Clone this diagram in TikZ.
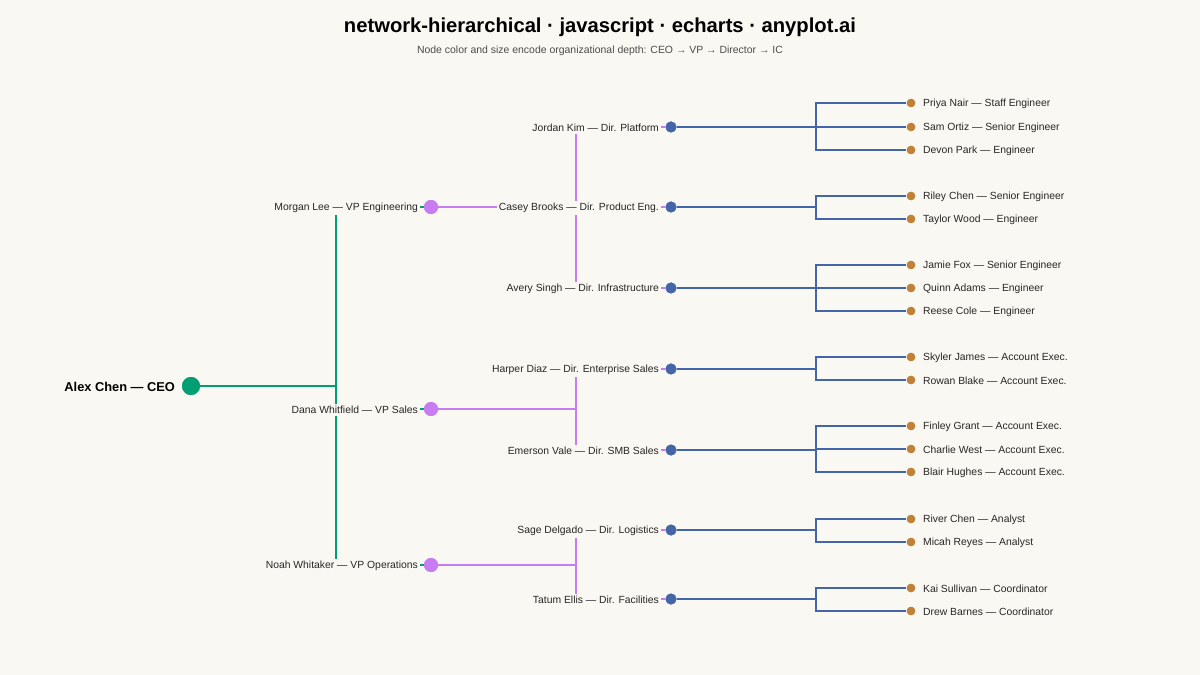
\documentclass[tikz,border=0pt]{standalone}
\usepackage{fontspec}
\setmainfont{Liberation Sans}
\begin{document}
\begin{tikzpicture}[x=0.02cm,y=-0.02cm,
  lbl/.style={fill=bgc,inner sep=1pt,font=\fontsize{5.9}{7}\selectfont,text=black!85},
  ceo/.style={circle,fill=ceoc,minimum size=18*0.02cm,inner sep=0},
  vp/.style={circle,fill=vpc,minimum size=14*0.02cm,inner sep=0},
  dir/.style={circle,fill=dirc,minimum size=11*0.02cm,inner sep=0},
  ic/.style={circle,fill=icc,minimum size=8.5*0.02cm,inner sep=0},
  e1/.style={draw=ceoc,line width=1.3pt},
  e2/.style={draw=vpc,line width=0.8pt},
  e3/.style={draw=dirc,line width=0.6pt}]
\definecolor{bgc}{HTML}{FAF8F2}
\definecolor{ceoc}{HTML}{009E73}
\definecolor{vpc}{HTML}{C77CF2}
\definecolor{dirc}{HTML}{4466A8}
\definecolor{icc}{HTML}{C08238}
\fill[bgc] (0,0) rectangle (1200,675);
\node[font=\bfseries\fontsize{11.5}{13}\selectfont] (title) at (600,27) {network-hierarchical · javascript · echarts · anyplot.ai};
\node[font=\fontsize{5.95}{7}\selectfont,text=black!70] (sub) at (600,51) {Node color and size encode organizational depth: CEO → VP → Director → IC};
% nodes
\node[ceo] (ceo) at (191,386) {};
\node[vp] (v1) at (431,207) {};
\node[vp] (v2) at (431,409) {};
\node[vp] (v3) at (431,565) {};
\foreach \n/\y in {d1/127,d2/207,d3/288,d4/369,d5/450,d6/530,d7/599}{\node[dir] (\n) at (671,\y) {};}
\foreach \n/\y in {i1/103,i2/127,i3/150,i4/196,i5/219,i6/265,i7/288,i8/311,i9/357,i10/380,i11/426,i12/449,i13/472,i14/519,i15/542,i16/588,i17/611}{\node[ic] (\n) at (911,\y) {};}
% edges
\foreach \v in {v1,v2,v3}{\draw[e1] (ceo.center) -| (336,0|-\v) -- (\v.center);}
\draw[e1] (ceo) -- (336,386);
\foreach \v/\d in {v1/d1,v1/d2,v1/d3,v2/d4,v2/d5,v3/d6,v3/d7}{\draw[e2] (\v) -| (576,0|-\d) -- (\d);}
\foreach \d/\i in {d1/i1,d1/i2,d1/i3,d2/i4,d2/i5,d3/i6,d3/i7,d3/i8,d4/i9,d4/i10,d5/i11,d5/i12,d5/i13,d6/i14,d6/i15,d7/i16,d7/i17}{\draw[e3] (\d) -| (816,0|-\i) -- (\i);}
% redraw nodes over edges
\node[ceo] at (ceo) {};
\foreach \v in {v1,v2,v3}{\node[vp] at (\v) {};}
\foreach \n in {d1,d2,d3,d4,d5,d6,d7}{\node[dir] at (\n) {};}
\foreach \n in {i1,i2,i3,i4,i5,i6,i7,i8,i9,i10,i11,i12,i13,i14,i15,i16,i17}{\node[ic] at (\n) {};}
% labels
\node[lbl,font=\bfseries\fontsize{7.3}{9}\selectfont,anchor=east,text=black] (lc) at (177,387) {Alex Chen — CEO};
\node[lbl,anchor=east] (l1) at (420,208) {Morgan Lee — VP Engineering};
\node[lbl,anchor=east] (l2) at (420,410) {Dana Whitfield — VP Sales};
\node[lbl,anchor=east] (l3) at (420,566) {Noah Whitaker — VP Operations};
\foreach \n/\t in {d1/Jordan Kim — Dir. Platform,d2/Casey Brooks — Dir. Product Eng.,d3/Avery Singh — Dir. Infrastructure,d4/Harper Diaz — Dir. Enterprise Sales,d5/Emerson Vale — Dir. SMB Sales,d6/Sage Delgado — Dir. Logistics,d7/Tatum Ellis — Dir. Facilities}{\node[lbl,anchor=east] (l\n) at ([xshift=-10*0.02cm,yshift=-1*0.02cm]\n.center) {\t};}
\foreach \n/\t in {i1/Priya Nair — Staff Engineer,i2/Sam Ortiz — Senior Engineer,i3/Devon Park — Engineer,i4/Riley Chen — Senior Engineer,i5/Taylor Wood — Engineer,i6/Jamie Fox — Senior Engineer,i7/Quinn Adams — Engineer,i8/Reese Cole — Engineer,i9/Skyler James — Account Exec.,i10/Rowan Blake — Account Exec.,i11/Finley Grant — Account Exec.,i12/Charlie West — Account Exec.,i13/Blair Hughes — Account Exec.,i14/River Chen — Analyst,i15/Micah Reyes — Analyst,i16/Kai Sullivan — Coordinator,i17/Drew Barnes — Coordinator}{\node[lbl,anchor=west] (l\n) at ([xshift=10*0.02cm,yshift=-1*0.02cm]\n.center) {\t};}
\end{tikzpicture}
\end{document}
